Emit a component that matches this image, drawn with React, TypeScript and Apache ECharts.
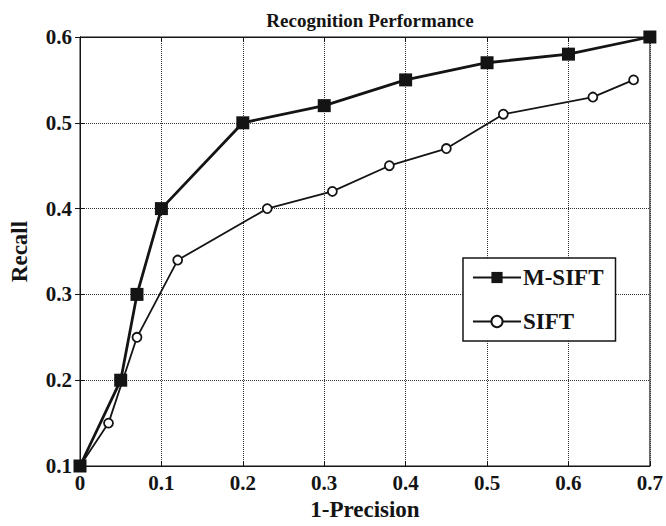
import React, { useEffect, useRef } from "react";
import * as echarts from "echarts";

const msiftX = [0, 0.05, 0.07, 0.1, 0.2, 0.3, 0.4, 0.5, 0.6, 0.7];
const msiftY = [0.1, 0.2, 0.3, 0.4, 0.5, 0.52, 0.55, 0.57, 0.58, 0.6];
const siftX = [0, 0.035, 0.07, 0.12, 0.23, 0.31, 0.38, 0.45, 0.52, 0.63, 0.68];
const siftY = [0.1, 0.15, 0.25, 0.34, 0.4, 0.42, 0.45, 0.47, 0.51, 0.53, 0.55];

const FONT = "'Liberation Serif', 'DejaVu Serif', serif";
const INK = "#141414";

export default function App() {
  const ref = useRef<HTMLDivElement>(null);
  useEffect(() => {
    if (!ref.current) return;
    const chart = echarts.init(ref.current, undefined, { renderer: "svg" });
    const labelStyle = { fontFamily: FONT, fontWeight: "bold", fontSize: 21, color: INK };
    const nameStyle = { fontFamily: FONT, fontWeight: "bold", fontSize: 23, color: INK };
    const splitLine = { show: true, lineStyle: { type: "dotted", color: "#333", width: 1 } };
    chart.setOption({
      animation: false,
      backgroundColor: "#fff",
      title: {
        text: "Recognition Performance",
        left: 365,
        textAlign: "center",
        top: 6,
        textStyle: { fontFamily: FONT, fontWeight: "bold", fontSize: 19, color: INK },
      },
      grid: { left: 78, right: 15, top: 37, bottom: 60, show: true, borderColor: INK, borderWidth: 1, backgroundColor: "transparent" },
      legend: {
        left: 463,
        top: 258,
        orient: "vertical",
        itemWidth: 48,
        itemHeight: 14,
        itemGap: 21,
        padding: [8, 12, 8, 9],
        borderColor: INK,
        borderWidth: 1.5,
        backgroundColor: "#fff",
        textStyle: { fontFamily: FONT, fontWeight: "bold", fontSize: 23, color: INK, padding: [0, 0, 0, -3] },
        data: ["M-SIFT", "SIFT"],
      },
      xAxis: [
        {
          type: "value",
          min: 0,
          max: 0.7,
          interval: 0.1,
          name: "1-Precision",
          nameLocation: "middle",
          nameGap: 31,
          nameTextStyle: nameStyle,
          axisLine: { show: true, lineStyle: { color: INK, width: 1 } },
          axisTick: { show: true, inside: true, length: 5, lineStyle: { color: INK } },
          axisLabel: { ...labelStyle, margin: 6, formatter: (v: number) => (v === 0 ? "0" : v.toFixed(1)) },
          splitLine,
        },
        {
          type: "value",
          position: "top",
          min: 0,
          max: 0.7,
          interval: 0.1,
          axisLine: { show: true, lineStyle: { color: INK, width: 1 } },
          axisTick: { show: true, inside: true, length: 5, lineStyle: { color: INK } },
          axisLabel: { show: false },
          splitLine: { show: false },
        },
      ],
      yAxis: [
        {
          type: "value",
          min: 0.1,
          max: 0.6,
          interval: 0.1,
          name: "Recall",
          nameLocation: "middle",
          nameGap: 49,
          nameTextStyle: nameStyle,
          axisLine: { show: true, lineStyle: { color: INK, width: 1 } },
          axisTick: { show: true, inside: true, length: 5, lineStyle: { color: INK } },
          axisLabel: { ...labelStyle, margin: 8, formatter: (v: number) => v.toFixed(1) },
          splitLine,
        },
        {
          type: "value",
          position: "right",
          min: 0.1,
          max: 0.6,
          interval: 0.1,
          axisLine: { show: true, lineStyle: { color: INK, width: 1 } },
          axisTick: { show: true, inside: true, length: 5, lineStyle: { color: INK } },
          axisLabel: { show: false },
          splitLine: { show: false },
        },
      ],
      series: [
        {
          name: "M-SIFT",
          type: "line",
          xAxisIndex: 0,
          yAxisIndex: 0,
          data: msiftX.map((x, i) => [x, msiftY[i]]),
          symbol: "rect",
          symbolSize: 13,
          lineStyle: { color: INK, width: 2.8 },
          itemStyle: { color: INK, borderColor: INK, borderWidth: 0 },
          z: 3,
        },
        {
          name: "SIFT",
          type: "line",
          xAxisIndex: 0,
          yAxisIndex: 0,
          data: siftX.map((x, i) => [x, siftY[i]]),
          symbol: "circle",
          symbolSize: 9,
          showAllSymbol: true,
          lineStyle: { color: INK, width: 1.8 },
          itemStyle: { color: "#fff", borderColor: INK, borderWidth: 1.8 },
          z: 2,
        },
      ],
    });
    return () => chart.dispose();
  }, []);
  return <div ref={ref} style={{ position: "absolute", left: 0, top: 0, width: 666, height: 526 }} />;
}
